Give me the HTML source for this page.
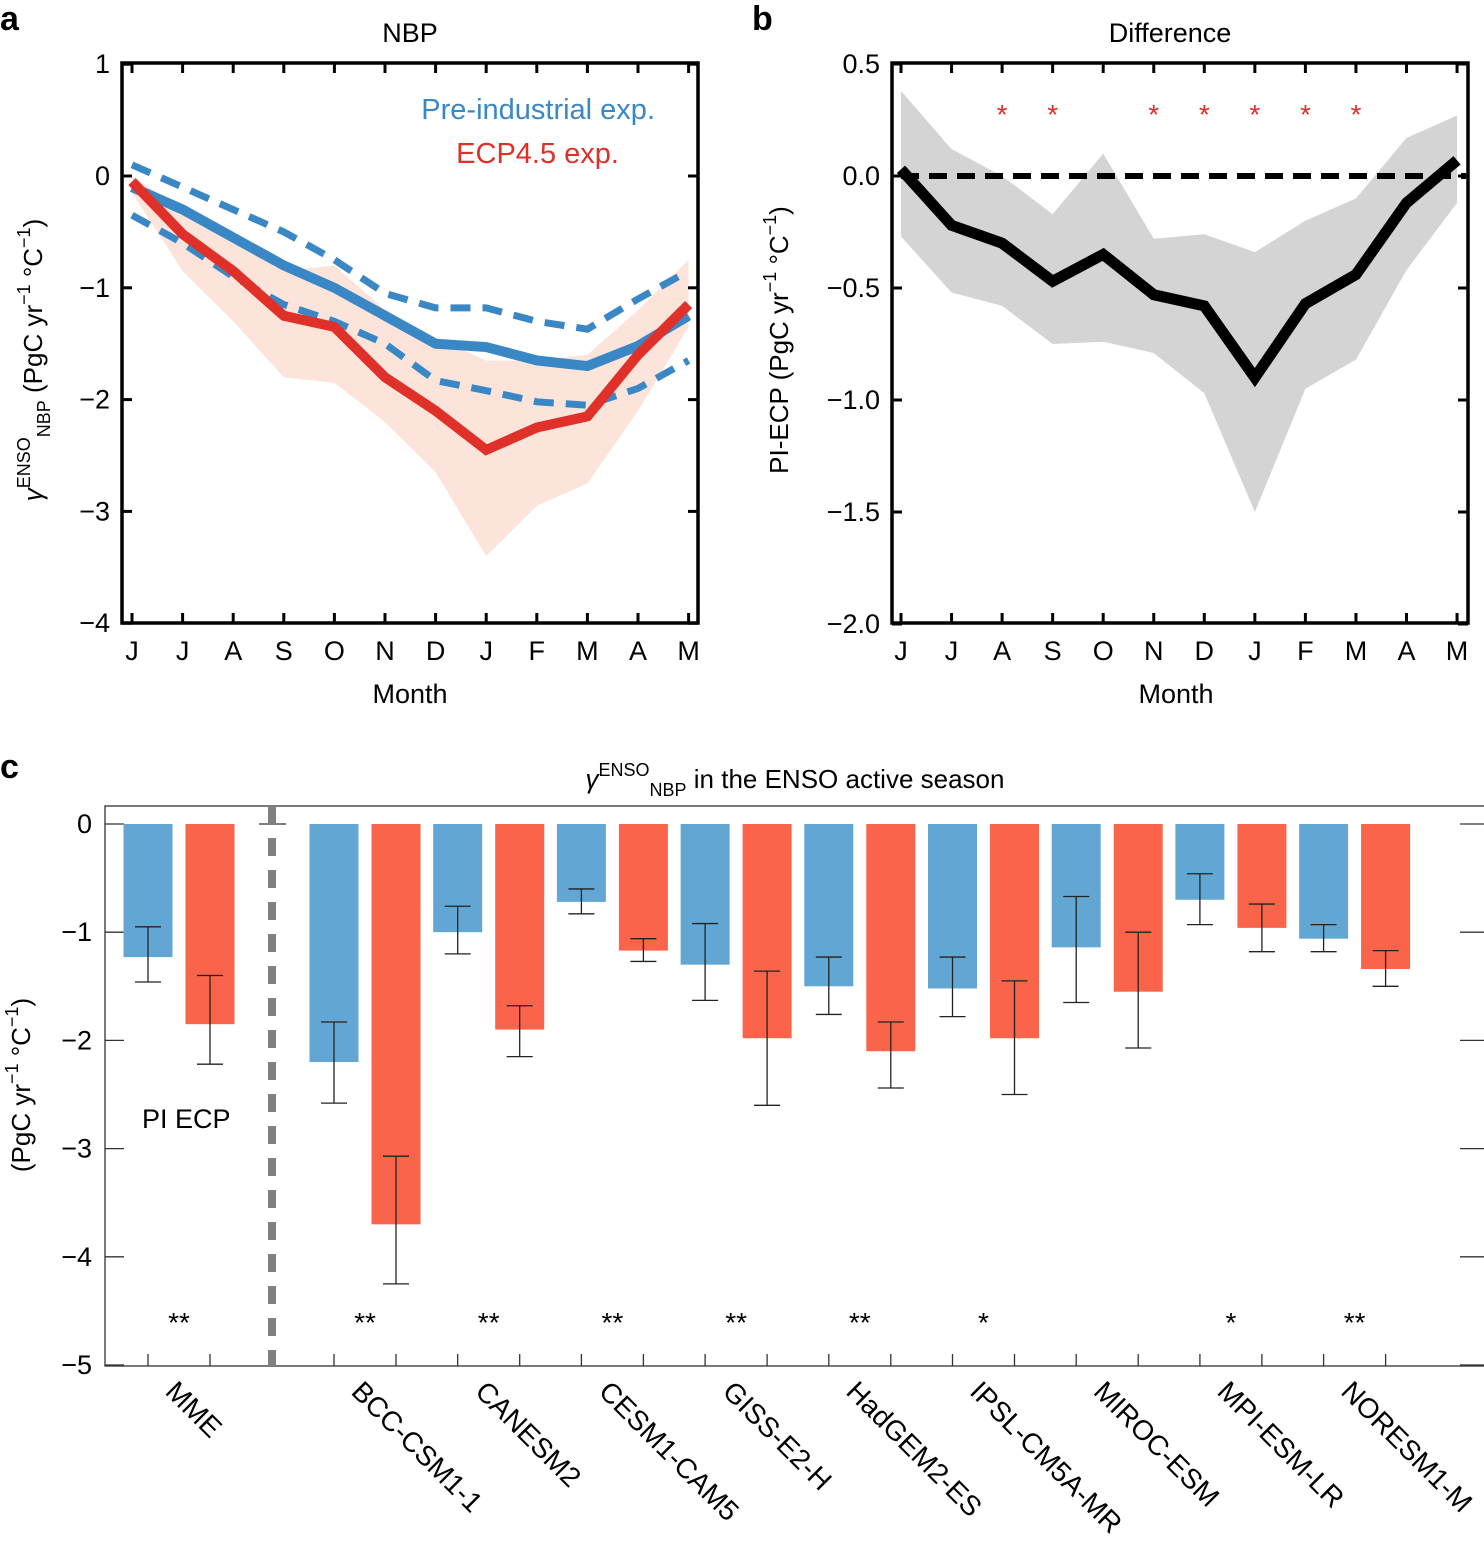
<!DOCTYPE html>
<html><head><meta charset="utf-8"><style>body{margin:0;background:#fff}svg{display:block;font-family:"Liberation Sans",sans-serif}</style></head>
<body>
<svg id="s" width="1484" height="1543" viewBox="0 0 1484 1543" xmlns="http://www.w3.org/2000/svg">
<text x="0" y="30" font-size="34" font-weight="bold">a</text>
<text x="752" y="30" font-size="34" font-weight="bold">b</text>
<text x="0" y="778" font-size="34" font-weight="bold">c</text>
<text x="410" y="42" font-size="27" text-anchor="middle">NBP</text>
<text x="1170" y="42" font-size="27" text-anchor="middle">Difference</text>
<text x="410" y="703" font-size="27" text-anchor="middle">Month</text>
<text x="1176" y="703" font-size="27" text-anchor="middle">Month</text>
<text transform="translate(42,360) rotate(-90)" font-size="26" text-anchor="middle"><tspan font-style="italic">γ</tspan><tspan dy="-12" font-size="18">ENSO</tspan><tspan dy="20" font-size="18">NBP</tspan><tspan dy="-8"> (PgC yr</tspan><tspan dy="-12" font-size="18">−1</tspan><tspan dy="12"> °C</tspan><tspan dy="-12" font-size="18">−1</tspan><tspan dy="12">)</tspan></text>
<text transform="translate(788,340) rotate(-90)" font-size="26" text-anchor="middle">PI-ECP (PgC yr<tspan dy="-12" font-size="18">−1</tspan><tspan dy="12"> °C</tspan><tspan dy="-12" font-size="18">−1</tspan><tspan dy="12">)</tspan></text>
<text transform="translate(30,1085) rotate(-90)" font-size="26" text-anchor="middle">(PgC yr<tspan dy="-12" font-size="18">−1</tspan><tspan dy="12"> °C</tspan><tspan dy="-12" font-size="18">−1</tspan><tspan dy="12">)</tspan></text>
<text x="795" y="788" font-size="26" text-anchor="middle"><tspan font-style="italic">γ</tspan><tspan dy="-12" font-size="18">ENSO</tspan><tspan dy="20" font-size="18">NBP</tspan><tspan dy="-8"> in the ENSO active season</tspan></text>
<text x="655" y="119" font-size="29" fill="#3a87c6" text-anchor="end">Pre-industrial exp.</text>
<text x="619" y="163" font-size="29" fill="#e0302a" text-anchor="end">ECP4.5 exp.</text>
<text x="142" y="1128" font-size="27">PI ECP</text>
<g id="ga"></g><g id="gb"></g><g id="gc"></g>
</svg>
<script>
const months=["J","J","A","S","O","N","D","J","F","M","A","M"];
const blueMean=[-0.1,-0.3,-0.55,-0.8,-1.0,-1.25,-1.5,-1.53,-1.65,-1.7,-1.52,-1.25];
const blueUpper=[0.1,-0.1,-0.3,-0.5,-0.75,-1.05,-1.18,-1.18,-1.3,-1.37,-1.1,-0.85];
const blueLower=[-0.35,-0.6,-0.9,-1.15,-1.3,-1.5,-1.83,-1.92,-2.02,-2.05,-1.9,-1.65];
const redMean=[-0.05,-0.52,-0.85,-1.25,-1.35,-1.8,-2.1,-2.45,-2.25,-2.15,-1.6,-1.15];
const redUpper=[0.0,-0.3,-0.55,-0.85,-0.8,-1.2,-1.45,-1.65,-1.65,-1.6,-1.2,-0.75];
const redLower=[-0.15,-0.85,-1.3,-1.8,-1.85,-2.2,-2.65,-3.4,-2.95,-2.75,-2.1,-1.35];
const aTicks=[1,0,-1,-2,-3,-4];
const diffMean=[0.03,-0.22,-0.3,-0.47,-0.35,-0.53,-0.58,-0.9,-0.57,-0.44,-0.12,0.07];
const diffUpper=[0.38,0.12,0.0,-0.17,0.1,-0.28,-0.26,-0.34,-0.2,-0.1,0.17,0.27];
const diffLower=[-0.27,-0.52,-0.58,-0.75,-0.74,-0.79,-0.97,-1.5,-0.95,-0.82,-0.42,-0.12];
const diffSig=[0,0,1,1,0,1,1,1,1,1,0,0];
const bTicks=["0.5","0.0","−0.5","−1.0","−1.5","−2.0"];
const bTickVals=[0.5,0,-0.5,-1,-1.5,-2];
const models=["MME","BCC-CSM1-1","CANESM2","CESM1-CAM5","GISS-E2-H","HadGEM2-ES","IPSL-CM5A-MR","MIROC-ESM","MPI-ESM-LR","NORESM1-M"];
const piVal=[-1.23,-2.2,-1.0,-0.72,-1.3,-1.5,-1.52,-1.14,-0.7,-1.06];
const piHi=[-0.95,-1.83,-0.76,-0.6,-0.92,-1.23,-1.23,-0.67,-0.46,-0.93];
const piLo=[-1.46,-2.58,-1.2,-0.83,-1.63,-1.76,-1.78,-1.65,-0.93,-1.18];
const ecpVal=[-1.85,-3.7,-1.9,-1.17,-1.98,-2.1,-1.98,-1.55,-0.96,-1.34];
const ecpHi=[-1.4,-3.07,-1.68,-1.06,-1.36,-1.83,-1.45,-1.0,-0.74,-1.17];
const ecpLo=[-2.22,-4.25,-2.15,-1.27,-2.6,-2.44,-2.5,-2.07,-1.18,-1.5];
const stars=["**","**","**","**","**","**","*","","*","**"];
const cTicks=[0,-1,-2,-3,-4,-5];

const NS="http://www.w3.org/2000/svg";
function mk(p,t,a){const e=document.createElementNS(NS,t);for(const k in a)e.setAttribute(k,a[k]);p.appendChild(e);return e;}
function fmt(v){return v<0?"−"+Math.abs(v):""+v;}

const ga=document.getElementById('ga');
const ax=i=>132+i*50.6, ay=v=>176-v*111.8;
function band(g,up,lo,X,Y,fill,name){let d="M"+up.map((v,i)=>X(i)+","+Y(v)).join("L")+"L"+lo.map((v,i)=>[X(i),Y(v)]).reverse().map(p=>p.join(",")).join("L")+"Z";const e=mk(g,'path',{d:d,fill:fill});}
function line(g,arr,X,Y,st,w,dash,name){const e=mk(g,'polyline',{points:arr.map((v,i)=>X(i)+","+Y(v)).join(" "),fill:"none",stroke:st,"stroke-width":w,"stroke-dasharray":dash||"none","stroke-linejoin":"miter"});}
band(ga,redUpper,redLower,ax,ay,"#fde4da","ecp-range");
line(ga,blueUpper,ax,ay,"#3a87c6",7,"20,12","pi-upper");
line(ga,blueLower,ax,ay,"#3a87c6",7,"20,12","pi-lower");
line(ga,blueMean,ax,ay,"#3a87c6",10,null,"pi-mean-line");
line(ga,redMean,ax,ay,"#e0302a",10,null,"ecp-mean-line");
mk(ga,'rect',{x:122,y:63,width:576,height:560,fill:"none",stroke:"#000","stroke-width":3.5});
function frameTicks(g,X,L,R,T,B,Y,vals,labels){
  months.forEach((m,i)=>{mk(g,'line',{x1:X(i),x2:X(i),y1:T,y2:T+10,stroke:"#000","stroke-width":3});mk(g,'line',{x1:X(i),x2:X(i),y1:B,y2:B-10,stroke:"#000","stroke-width":3});
    const t=mk(g,'text',{x:X(i),y:B+37,"font-size":27,"text-anchor":"middle"});t.textContent=m;});
  vals.forEach((v,i)=>{mk(g,'line',{x1:L,x2:L+10,y1:Y(v),y2:Y(v),stroke:"#000","stroke-width":3});mk(g,'line',{x1:R,x2:R-10,y1:Y(v),y2:Y(v),stroke:"#000","stroke-width":3});
    const t=mk(g,'text',{x:L-12,y:Y(v)+9,"font-size":27,"text-anchor":"end"});t.textContent=labels[i];});
}
frameTicks(ga,ax,122,698,63,623,ay,aTicks,aTicks.map(fmt));

const gb=document.getElementById('gb');
const bx=i=>901+i*50.55, by=v=>176-v*224;
band(gb,diffUpper,diffLower,bx,by,"#d4d4d4","diff-range");
const z=mk(gb,'line',{x1:901,x2:1466,y1:by(0),y2:by(0),stroke:"#000","stroke-width":6,"stroke-dasharray":"18,10"});

line(gb,diffMean,bx,by,"#000",11,null,"diff-mean-line");
diffSig.forEach((s,i)=>{if(s){const t=mk(gb,'text',{x:bx(i),y:124,"font-size":28,fill:"#e0302a","text-anchor":"middle"});t.textContent="*";}});
mk(gb,'rect',{x:892,y:63,width:576,height:560,fill:"none",stroke:"#000","stroke-width":3.5});
frameTicks(gb,bx,892,1468,63,623,by,bTickVals,bTicks);

const gc=document.getElementById('gc');
const cy=v=>824-v*108.2;
const gx=i=>i==0?148:334+(i-1)*123.7;
mk(gc,'rect',{x:105,y:806,width:1400,height:560,fill:"none",stroke:"#333","stroke-width":1.3});
cTicks.forEach(v=>{mk(gc,'line',{x1:105,x2:124,y1:cy(v),y2:cy(v),stroke:"#333","stroke-width":1.3});mk(gc,'line',{x1:1460,x2:1484,y1:cy(v),y2:cy(v),stroke:"#333","stroke-width":1.3});
  const t=mk(gc,'text',{x:92,y:cy(v)+9,"font-size":27,"text-anchor":"end"});t.textContent=fmt(v);});
mk(gc,'line',{x1:259,x2:286,y1:cy(0),y2:cy(0),stroke:"#333","stroke-width":1.3});
const dl=mk(gc,'line',{x1:272,x2:272,y1:806,y2:1366,stroke:"#808080","stroke-width":8,"stroke-dasharray":"18,14"});

function bar(x,v,hi,lo,col,name){const r=mk(gc,'rect',{x:x-24.5,y:cy(0),width:49,height:cy(v)-cy(0),fill:col});
  mk(gc,'line',{x1:x,x2:x,y1:cy(hi),y2:cy(lo),stroke:"#222","stroke-width":1.3});
  [hi,lo].forEach(q=>mk(gc,'line',{x1:x-13,x2:x+13,y1:cy(q),y2:cy(q),stroke:"#222","stroke-width":1.3}));
  mk(gc,'line',{x1:x,x2:x,y1:1366,y2:1354,stroke:"#333","stroke-width":1.3});}
models.forEach((m,i)=>{const c=gx(i);
  bar(c,piVal[i],piHi[i],piLo[i],"#62a7d3","bar-pi-"+m);
  bar(c+62,ecpVal[i],ecpHi[i],ecpLo[i],"#f9644a","bar-ecp-"+m);
  if(stars[i]){const t=mk(gc,'text',{x:c+31,y:1332,"font-size":28,"text-anchor":"middle"});t.textContent=stars[i];}
  const t=mk(gc,'text',{x:c+16,y:1393,"font-size":28,transform:"rotate(45 "+(c+16)+" 1393)"});t.textContent=m;});
</script>
</body></html>
